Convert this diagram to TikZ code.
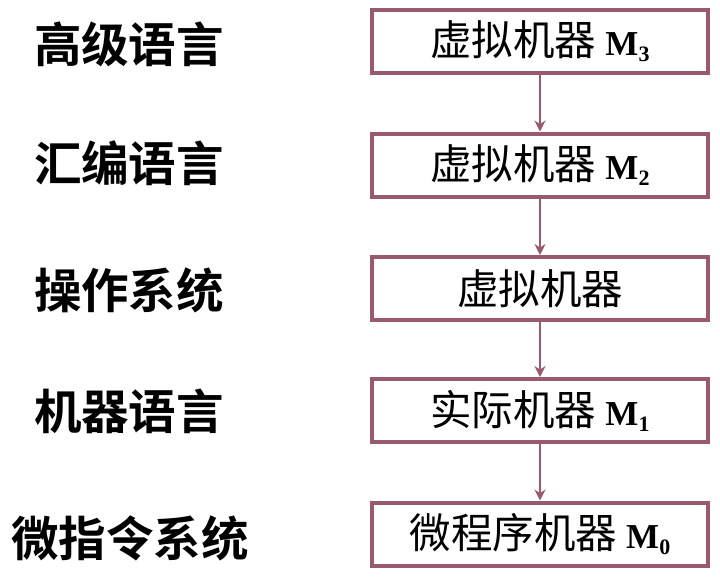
\documentclass[tikz,border=0pt]{standalone}
\usepackage{fontspec}
\setmainfont{Liberation Serif}
\newfontfamily\cjk[BoldFont={* Bold}]{Noto Sans CJK SC}
\usetikzlibrary{arrows.meta}
\definecolor{boxc}{HTML}{985A6C}
\newcommand\mxlabel[1]{\hspace{9pt}{\fontspec{Liberation Serif}\bfseries\fontsize{35}{35}\selectfont M\raisebox{-6pt}{\fontsize{22}{22}\selectfont #1}}}
\begin{document}
\begin{tikzpicture}[x=1pt,y=-1pt,
  box/.style={draw=boxc,line width=4pt,minimum width=336pt,minimum height=63pt,inner sep=0pt,fill=white,font=\cjk\fontsize{41.5}{41.5}\selectfont},
  lab/.style={inner sep=0pt,font=\cjk\bfseries\fontsize{47.5}{47.5}\selectfont},
  arr/.style={draw=boxc,line width=2.8pt,-{Stealth[length=11pt,width=11pt]}}]
\useasboundingbox[fill=white] (0,0) rectangle (720,582);
\node[box] (b3) at (540,41.5) {虚拟机器\mxlabel{3}};
\node[box] (b2) at (540,165) {虚拟机器\mxlabel{2}};
\node[box] (bo) at (540,288.5) {虚拟机器};
\node[box] (b1) at (540,410.5) {实际机器\mxlabel{1}};
\node[box] (b0) at (540,534) {微程序机器\mxlabel{0}};
\node[lab] (l3) at (129,44) {高级语言};
\node[lab] (l2) at (129,163) {汇编语言};
\node[lab] (lo) at (129,290) {操作系统};
\node[lab] (l1) at (129,411) {机器语言};
\node[lab] (l0) at (130,538) {微指令系统};
\draw[arr] (b3) -- (b2);
\draw[arr] (b2) -- (bo);
\draw[arr] (bo) -- (b1);
\draw[arr] (b1) -- (b0);
\end{tikzpicture}
\end{document}
